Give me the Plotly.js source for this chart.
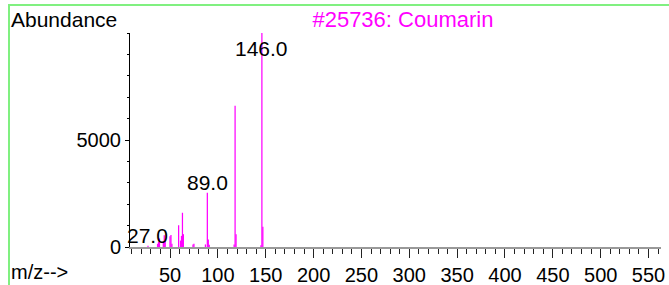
<!DOCTYPE html>
<html>
<head>
<meta charset="utf-8">
<script src="https://cdn.plot.ly/plotly-3.0.1.min.js"></script>
<style>
html,body{margin:0;padding:0;background:#fff;}
#chart{position:absolute;left:0;top:0;width:669px;height:285px;}
#frame{position:absolute;left:8px;top:4px;width:661px;height:281px;border-top:2px solid #80f080;border-left:2px solid #80f080;pointer-events:none;}
</style>
</head>
<body>
<div id="chart"></div>
<div id="frame"></div>
<script>
// m/z values and abundances
const mz = [27, 37, 38, 39, 43, 44, 45, 50, 51, 52, 59, 61, 62, 63, 64, 74, 75, 87, 89, 90, 91, 117, 118, 119, 145, 146, 147];
const abundance = [60, 150, 250, 400, 250, 550, 350, 500, 560, 150, 1020, 300, 520, 1600, 600, 120, 150, 120, 2530, 350, 100, 120, 6600, 600, 80, 9999, 950];
const labelMz = [146, 89, 27];
const labelText = ["146.0", "89.0", "27.0"];
const xTicks = [50, 100, 150, 200, 250, 300, 350, 400, 450, 500, 550];
const yTicks = [0, 5000];
const titleText = "#25736: Coumarin";

const font = "Liberation Sans, Arial, sans-serif";
const labelAnn = labelMz.map((m, i) => {
  const v = abundance[mz.indexOf(m)];
  const clamp = v > 9000;
  return {
    x: m, y: v, xref: 'x', yref: 'y', text: labelText[i], showarrow: false,
    xanchor: 'center', yanchor: clamp ? 'top' : 'bottom',
    yshift: clamp ? -2 : -3,
    font: {family: font, size: 21, color: '#000'}
  };
});

const trace = {
  type: 'bar', x: mz, y: abundance, width: 1.3,
  marker: {color: '#ff00ff', line: {width: 0}},
  hoverinfo: 'skip'
};

const layout = {
  width: 669, height: 285,
  margin: {l: 130, r: 8, t: 33, b: 38, pad: 0},
  paper_bgcolor: '#fff', plot_bgcolor: '#fff',
  showlegend: false,
  font: {family: font, size: 20, color: '#000'},
  title: {text: titleText, font: {family: font, size: 22, color: '#ff00ff'},
          xref: 'paper', x: 0.514, xanchor: 'center', y: 0.933, yanchor: 'middle', yref: 'container'},
  xaxis: {
    range: [8.2, 563], showgrid: false, zeroline: false,
    showline: true, linecolor: '#999', linewidth: 1.5,
    tickmode: 'array', tickvals: xTicks, ticktext: xTicks.map(String),
    ticks: 'outside', ticklen: 9, tickwidth: 1, tickcolor: '#222',
    tickfont: {family: font, size: 20, color: '#000'},
    minor: {dtick: 10, tick0: 0, ticks: 'outside', ticklen: 5, tickwidth: 1, tickcolor: '#222', showgrid: false}
  },
  yaxis: {
    range: [0, 10000], showgrid: false, zeroline: false,
    showline: true, linecolor: '#000', linewidth: 1,
    tickmode: 'array', tickvals: yTicks, ticktext: yTicks.map(String),
    ticks: 'outside', ticklen: 4, tickwidth: 1, tickcolor: '#000',
    tickfont: {family: font, size: 20, color: '#000'},
    minor: {dtick: 1000, tick0: 0, ticks: 'outside', ticklen: 2, tickwidth: 1, tickcolor: '#000', showgrid: false}
  },
  annotations: labelAnn.concat([
    {text: 'Abundance', xref: 'paper', yref: 'paper', x: -0.228, y: 1.065, xanchor: 'left', yanchor: 'middle',
     showarrow: false, font: {family: font, size: 21, color: '#000'}},
    {text: 'm/z-->', xref: 'paper', yref: 'paper', x: -0.228, y: -0.117, xanchor: 'left', yanchor: 'middle',
     showarrow: false, font: {family: font, size: 20, color: '#000'}}
  ])
};

Plotly.newPlot('chart', [trace], layout, {staticPlot: true, displayModeBar: false});
</script>
</body>
</html>
